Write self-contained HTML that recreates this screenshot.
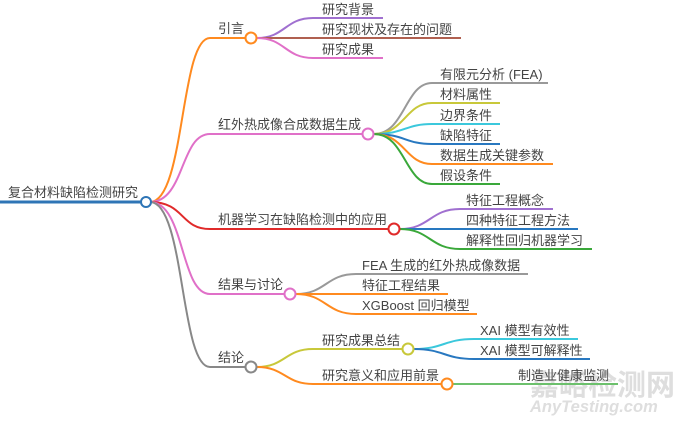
<!DOCTYPE html>
<html><head><meta charset="utf-8"><style>
html,body{margin:0;padding:0;background:#fff;}
svg text{font-family:"Liberation Sans","Noto Sans CJK SC",sans-serif;font-size:13px;fill:#444;}
</style></head><body>
<svg width="680" height="426" viewBox="0 0 680 426" xmlns="http://www.w3.org/2000/svg">
<text x="530" y="395" style="font-size:29px;fill:#dedede;font-weight:bold;">嘉峪检测网</text>
<text x="530" y="412" style="font-size:16.5px;fill:#dedede;font-style:italic;font-weight:bold;">AnyTesting.com</text>
<g fill="none" stroke-width="2">
<path d="M0 202 H141" stroke="#2e75b6" stroke-width="3"/>
<path d="M150 202 C185 202,180 38,210 38 H245" stroke="#ff8a1f"/>
<path d="M150 202 C185 202,180 134,210 134 H362" stroke="#e070c8"/>
<path d="M150 202 C185 202,180 229,210 229 H388" stroke="#e02a2a"/>
<path d="M150 202 C185 202,180 294,210 294 H284" stroke="#e070c8"/>
<path d="M150 202 C185 202,180 367,210 367 H245" stroke="#888"/>
<path d="M257 38 C285 38,285 18,313 18 H383" stroke="#a070d0"/>
<path d="M257 38 H461" stroke="#b06050"/>
<path d="M257 38 C285 38,285 58,313 58 H383" stroke="#e070c8"/>
<path d="M374 134 C405 134,405 83,432 83 H548" stroke="#999"/>
<path d="M374 134 C405 134,405 103,432 103 H500" stroke="#c8c83a"/>
<path d="M374 134 C405 134,405 124,432 124 H500" stroke="#3bc8dc"/>
<path d="M374 134 C405 134,405 144,432 144 H500" stroke="#2878c0"/>
<path d="M374 134 C405 134,405 164,432 164 H553" stroke="#ff8a1f"/>
<path d="M374 134 C405 134,405 184,432 184 H500" stroke="#3aa83a"/>
<path d="M400 229 C430 229,430 209,460 209 H553" stroke="#a070d0"/>
<path d="M400 229 H578" stroke="#2878c0"/>
<path d="M400 229 C430 229,430 249,460 249 H592" stroke="#3aa83a"/>
<path d="M296 294 C326 294,326 274,356 274 H528" stroke="#999"/>
<path d="M296 294 H448" stroke="#ff8a1f"/>
<path d="M296 294 C326 294,326 314,356 314 H477" stroke="#ff8a1f"/>
<path d="M257 367 C285 367,285 349,313 349 H402" stroke="#c8c83a"/>
<path d="M257 367 C285 367,285 384,313 384 H441" stroke="#ff8a1f"/>
<path d="M414 349 C444 349,444 339,474 339 H578" stroke="#3bc8dc"/>
<path d="M414 349 C444 349,444 359,474 359 H590" stroke="#2878c0"/>
<path d="M453 384 H618" stroke="#6cc06c"/>
<g fill="#fff">
<circle cx="146" cy="202" r="5" stroke="#2e75b6"/>
<circle cx="251" cy="38" r="5.5" stroke="#ff8a1f"/>
<circle cx="368" cy="134" r="5.5" stroke="#e070c8"/>
<circle cx="394" cy="229" r="5.5" stroke="#e02a2a"/>
<circle cx="290" cy="294" r="5.5" stroke="#e070c8"/>
<circle cx="251" cy="367" r="5.5" stroke="#888"/>
<circle cx="408" cy="349" r="5.5" stroke="#c8c83a"/>
<circle cx="447" cy="384" r="5.5" stroke="#ff8a1f"/>
</g>
</g>
<text x="8" y="197">复合材料缺陷检测研究</text>
<text x="218" y="33">引言</text>
<text x="218" y="129">红外热成像合成数据生成</text>
<text x="218" y="224">机器学习在缺陷检测中的应用</text>
<text x="218" y="289">结果与讨论</text>
<text x="218" y="362">结论</text>
<text x="322" y="14">研究背景</text>
<text x="322" y="34">研究现状及存在的问题</text>
<text x="322" y="54">研究成果</text>
<text x="440" y="79">有限元分析 (FEA)</text>
<text x="440" y="99">材料属性</text>
<text x="440" y="120">边界条件</text>
<text x="440" y="140">缺陷特征</text>
<text x="440" y="160">数据生成关键参数</text>
<text x="440" y="180">假设条件</text>
<text x="466" y="205">特征工程概念</text>
<text x="466" y="225">四种特征工程方法</text>
<text x="466" y="245">解释性回归机器学习</text>
<text x="362" y="270">FEA 生成的红外热成像数据</text>
<text x="362" y="290">特征工程结果</text>
<text x="362" y="310">XGBoost 回归模型</text>
<text x="322" y="345">研究成果总结</text>
<text x="322" y="380">研究意义和应用前景</text>
<text x="480" y="335">XAI 模型有效性</text>
<text x="480" y="355">XAI 模型可解释性</text>
<text x="518" y="380">制造业健康监测</text>
</svg>
</body></html>
